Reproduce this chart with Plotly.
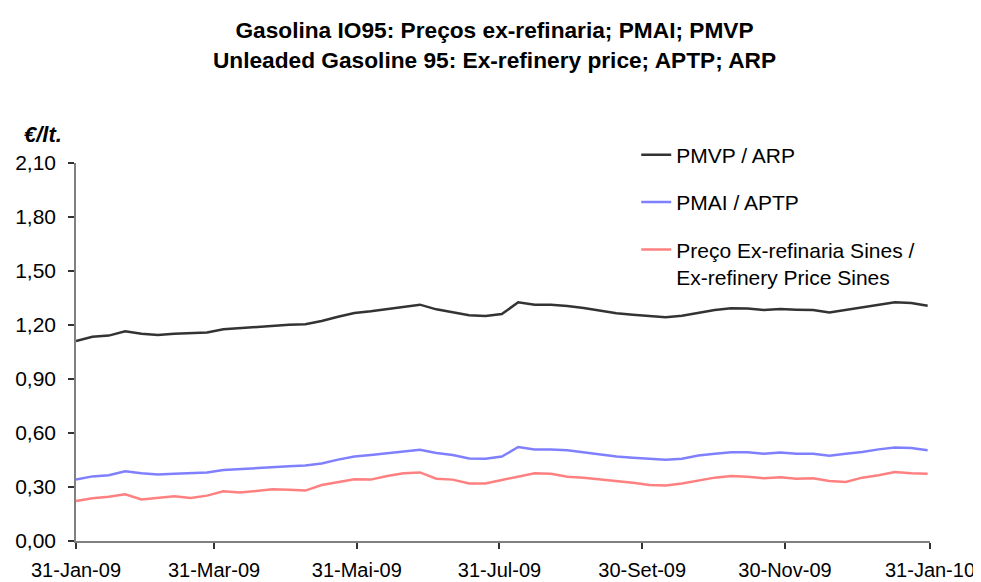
import pandas as pd
import plotly.graph_objects as go

# Weekly observation dates (31-Jan-09 .. 30-Jan-10)
dates = pd.date_range("2009-01-31", periods=53, freq="7D")

pmvp_arp = [1.111, 1.135, 1.141, 1.165, 1.152, 1.144, 1.152, 1.156, 1.159, 1.176,
            1.183, 1.189, 1.196, 1.201, 1.204, 1.222, 1.246, 1.267, 1.276, 1.289,
            1.304, 1.313, 1.287, 1.272, 1.254, 1.250, 1.261, 1.326, 1.313, 1.313,
            1.306, 1.294, 1.278, 1.265, 1.257, 1.248, 1.243, 1.252, 1.269, 1.283,
            1.293, 1.291, 1.283, 1.289, 1.285, 1.283, 1.270, 1.283, 1.296, 1.313,
            1.326, 1.322, 1.307]

pmai_aptp = [0.341, 0.359, 0.365, 0.387, 0.376, 0.370, 0.374, 0.378, 0.381, 0.394,
             0.400, 0.406, 0.411, 0.415, 0.419, 0.431, 0.452, 0.470, 0.478, 0.489,
             0.500, 0.507, 0.489, 0.478, 0.459, 0.457, 0.469, 0.522, 0.509, 0.509,
             0.504, 0.493, 0.480, 0.469, 0.463, 0.456, 0.452, 0.457, 0.475, 0.485,
             0.493, 0.493, 0.485, 0.491, 0.485, 0.485, 0.474, 0.485, 0.494, 0.509,
             0.519, 0.517, 0.504]

ex_refinery = [0.222, 0.237, 0.246, 0.259, 0.231, 0.239, 0.248, 0.239, 0.252, 0.276,
               0.270, 0.278, 0.287, 0.285, 0.280, 0.311, 0.326, 0.343, 0.341, 0.361,
               0.376, 0.381, 0.346, 0.341, 0.319, 0.319, 0.339, 0.357, 0.376, 0.374,
               0.357, 0.352, 0.343, 0.332, 0.324, 0.311, 0.309, 0.319, 0.335, 0.352,
               0.361, 0.357, 0.348, 0.354, 0.346, 0.348, 0.333, 0.328, 0.352, 0.365,
               0.383, 0.376, 0.374]

series_names = ["PMVP / ARP", "PMAI / APTP",
                "Preço Ex-refinaria Sines /<br>Ex-refinery Price Sines"]
series_colors = ["#333333", "#8080FF", "#FF8080"]

x_tick_vals = ["2009-01-31", "2009-03-31", "2009-05-31", "2009-07-31",
               "2009-09-30", "2009-11-30", "2010-01-31"]
x_tick_text = ["31-Jan-09", "31-Mar-09", "31-Mai-09", "31-Jul-09",
               "30-Set-09", "30-Nov-09", "31-Jan-10"]
y_tick_vals = [0.0, 0.3, 0.6, 0.9, 1.2, 1.5, 1.8, 2.1]
y_tick_text = ["0,00", "0,30", "0,60", "0,90", "1,20", "1,50", "1,80", "2,10"]

FONT = "Liberation Sans, Arial, sans-serif"

fig = go.Figure()
for i, (vals, name, col) in enumerate(zip([pmvp_arp, pmai_aptp, ex_refinery],
                                          series_names, series_colors)):
    fig.add_trace(go.Scatter(x=dates, y=vals, mode="lines", name=name,
                             legendgroup=f"g{i}",
                             line=dict(color=col, width=2.5)))

# page body adds an 8px margin, so the figure is 8px smaller than the window
W, H = 973, 574
fig.update_layout(
    width=W, height=H,
    margin=dict(l=68, r=51, t=155, b=41, autoexpand=False),
    paper_bgcolor="white", plot_bgcolor="white",
    font=dict(family=FONT, color="black", size=21),
    title=dict(text="<b>Gasolina IO95: Preços ex-refinaria; PMAI; PMVP<br>"
                    "Unleaded Gasoline 95: Ex-refinery price; APTP; ARP</b>",
               x=0.5, xanchor="center", xref="container",
               y=1 - 30 / H, yanchor="top", yref="container",
               font=dict(family=FONT, size=22.7, color="black")),
    showlegend=True,
    legend=dict(x=0.656, xanchor="left", y=1.075, yanchor="top",
                traceorder="grouped", tracegroupgap=17, valign="top",
                font=dict(family=FONT, size=21, color="black"),
                bgcolor="rgba(0,0,0,0)", borderwidth=0),
    xaxis=dict(type="date", range=["2009-01-31", "2010-01-31"],
               tickmode="array", tickvals=x_tick_vals, ticktext=x_tick_text,
               showgrid=False, zeroline=False, automargin=False,
               showline=True, linecolor="#808080", linewidth=1.5,
               ticks="outside", ticklen=6, tickcolor="#333333", tickwidth=1.5,
               ticklabelstandoff=4,
               tickfont=dict(family=FONT, size=20, color="black")),
    yaxis=dict(range=[0, 2.1], tickmode="array", tickvals=y_tick_vals,
               ticktext=y_tick_text, showgrid=False, zeroline=False,
               automargin=False,
               showline=True, linecolor="#808080", linewidth=1.5,
               ticks="outside", ticklen=6, tickcolor="#333333", tickwidth=1.5,
               ticklabelstandoff=8,
               tickfont=dict(family=FONT, size=21, color="black")),
    annotations=[dict(text="<b><i>€/lt.</i></b>", xref="paper", yref="paper",
                      x=(56 - 68) / 854, y=(533 - 127) / 378,
                      xanchor="right", yanchor="middle", showarrow=False,
                      font=dict(family=FONT, size=22, color="black"))],
)

fig.write_html("out.html")
